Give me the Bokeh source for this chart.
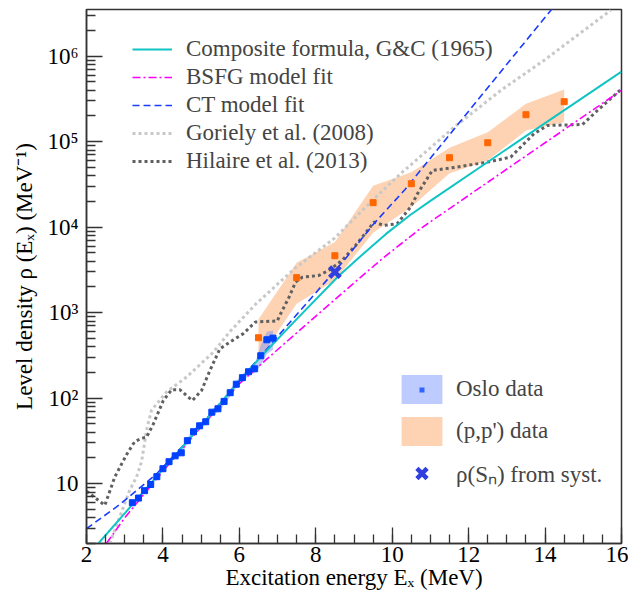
from bokeh.plotting import figure
from bokeh.models import (Range1d, FixedTicker, Legend, LegendItem, BoxAnnotation)
from bokeh.embed import file_html
from bokeh.resources import INLINE

# ---------------- data ----------------
# Oslo data
oslo_E = [3.20, 3.36, 3.52, 3.68, 3.84, 4.00, 4.16, 4.32, 4.48, 4.64, 4.80, 4.96,
          5.12, 5.28, 5.44, 5.60, 5.76, 5.92, 6.08, 6.24, 6.40, 6.56, 6.72, 6.88]
oslo_rho = [6.0, 6.8, 8.3, 9.8, 12.1, 15.0, 18.1, 21.2, 23.0, 31.9, 40.6, 47.6,
            53.1, 68.7, 75.3, 91.8, 116, 146, 174, 204, 221, 314, 483, 505]
oslo_lo = [5.8, 6.5, 7.9, 9.3, 11.4, 14.1, 17.0, 19.8, 21.4, 29.6, 37.6, 43.9,
           48.8, 63.0, 68.8, 83.6, 105, 132, 157, 183, 197, 240, 330, 370]
oslo_hi = [6.2, 7.1, 8.7, 10.3, 12.8, 15.9, 19.2, 22.6, 24.6, 34.2, 43.6, 51.3,
           57.4, 74.4, 81.8, 100, 127, 160, 191, 226, 250, 420, 600, 620]

# (p,p') data
pp_E = [6.5, 7.5, 8.5, 9.5, 10.5, 11.5, 12.5, 13.5, 14.5]
pp_rho = [510, 2570, 4640, 19400, 32300, 65000, 97300, 207000, 294000]
pp_lo = [280, 1270, 2400, 8600, 17200, 42900, 60400, 135000, 169000]
pp_hi = [840, 3850, 6700, 30500, 44100, 85100, 129000, 278000, 409000]

# rho(Sn) from systematics
sn_E = [8.5]
sn_rho = [2990]

# Composite formula, G&C (1965)
cgc_E = [2.31, 3.0, 4.0, 5.0, 6.0, 6.55, 7.5, 8.61, 9.2, 9.83, 10.48, 11.0, 12.5, 14.0, 16.0]
cgc_rho = [2.0, 4.5, 14.8, 48, 158, 302, 841, 2730, 4700, 8300, 14000, 20300, 58000,
           165000, 660000]

# BSFG model fit
bsfg_E = [2.52, 3.0, 4.0, 5.0, 6.0, 6.73, 8.5, 9.74, 10.7, 12.5, 14.0, 16.0]
bsfg_rho = [2.0, 4.0, 14.0, 46, 148, 290, 1430, 4290, 9360, 33600, 97300, 400000]

# CT model fit
ct_E = [2.0, 2.89, 3.83, 4.5, 5.5, 6.5, 7.52, 8.74, 9.52, 10.33, 11.66, 13.01, 14.3]
ct_rho = [2.98, 5.8, 13, 27, 88, 290, 973, 4090, 11000, 27500, 148000, 817000, 4150000]

# Goriely et al. (2008)
gor_E = [2.61, 2.87, 3.13, 3.31, 3.44, 3.53, 3.57, 3.70, 4.09, 4.62, 5.32, 5.75,
         6.42, 7.45, 8.5, 9.5, 10.22, 11.62, 12.84, 13.97, 15.72]
gor_rho = [2.0, 4.1, 8.4, 12, 18, 32, 42, 72, 118, 177, 346, 600,
           1250, 3300, 7500, 21000, 42300, 148000, 398000, 893000, 3450000]

# Hilaire et al. (2013)
hil_E = [2.0, 2.48, 2.74, 3.05, 3.26, 3.44, 3.57, 3.75, 4.01, 4.23, 4.44, 4.77,
         5.01, 5.23, 5.49, 5.75, 6.10, 6.42, 6.99, 7.08, 7.30, 7.47, 7.65, 8.08,
         8.34, 8.69, 9.04, 9.39, 9.52, 9.78, 10.13, 10.48, 10.66, 11.05, 11.70,
         12.49, 13.10, 13.71, 14.06, 14.98, 15.37, 15.98]
hil_rho = [8.2, 5.6, 12, 22, 31, 34, 35, 50, 94, 126, 126, 94,
           123, 211, 379, 453, 568, 780, 800, 973, 1520, 2280, 2600, 2730,
           3130, 4090, 6120, 9600, 11500, 10500, 11000, 17200, 24600, 46200, 50500,
           57700, 66100, 124000, 155000, 159000, 232000, 406000]

x_major = [2, 4, 6, 8, 10, 12, 14, 16]
y_major = [10, 100, 1000, 10000, 100000, 1000000]
y_labels = ["10", "10\u00b2", "10\u00b3", "10\u2074", "10\u2075", "10\u2076"]

FONT = "Liberation Serif"

# ---------------- figure ----------------
p = figure(width=628, height=599, x_range=Range1d(2, 16), y_range=Range1d(2.0, 3.52e6),
           y_axis_type="log", output_backend="svg", toolbar_location=None,
           min_border_left=86, min_border_right=7, min_border_top=9, min_border_bottom=56)
p.grid.visible = False
p.outline_line_color = "#333333"
p.outline_line_width = 1.5
p.background_fill_color = "white"
p.border_fill_color = "white"

# axes
p.xaxis.ticker = FixedTicker(ticks=x_major,
                             minor_ticks=[2 + 0.5 * i for i in range(29)])
minor_y = []
for k in range(0, 7):
    for m in range(2, 10):
        minor_y.append(m * 10 ** k)
p.yaxis.ticker = FixedTicker(ticks=y_major, minor_ticks=minor_y)
p.yaxis.major_label_overrides = {float(v): s for v, s in zip(y_major, y_labels)}

for ax in (p.xaxis[0], p.yaxis[0]):
    ax.major_tick_in = 16
    ax.major_tick_out = 0
    ax.minor_tick_in = 9
    ax.minor_tick_out = 0
    ax.major_tick_line_color = "#333333"
    ax.minor_tick_line_color = "#333333"
    ax.major_tick_line_width = 1.3
    ax.minor_tick_line_width = 1.3
    ax.axis_line_color = "#333333"
    ax.axis_line_width = 1.5
    ax.major_label_text_font = FONT
    ax.major_label_text_font_size = "23px"
    ax.major_label_text_color = "black"
    ax.axis_label_text_font = FONT
    ax.axis_label_text_font_size = "23px"
    ax.axis_label_text_font_style = "normal"
    ax.axis_label_text_color = "black"
p.xaxis.major_label_standoff = 3
p.yaxis.major_label_standoff = 8
p.xaxis.axis_label = "Excitation energy E\u2093 (MeV)"
p.yaxis.axis_label = "Level density \u03c1 (E\u2093) (MeV\u207b\u00b9)"
p.xaxis.axis_label_standoff = 0
p.yaxis.axis_label_standoff = 7

# ---------------- bands ----------------
band_pp = p.varea(x=pp_E, y1=pp_lo, y2=pp_hi, fill_color="#fdd3b4", fill_alpha=1.0)
band_oslo = p.varea(x=oslo_E, y1=oslo_lo, y2=oslo_hi, fill_color="#6f8cff", fill_alpha=0.45)

# ---------------- model lines ----------------
r_gor = p.line(gor_E, gor_rho, line_color="#c8c8c8", line_width=3, line_dash="3 3")
r_hil = p.line(hil_E, hil_rho, line_color="#606060", line_width=3, line_dash="3 3")
r_ct = p.line(ct_E, ct_rho, line_color="#1a3cff", line_width=1.6, line_dash="7 4")
r_bsfg = p.line(bsfg_E, bsfg_rho, line_color="#ff00ff", line_width=1.6, line_dash="8 3 2 3")
r_cgc = p.line(cgc_E, cgc_rho, line_color="#10c4c4", line_width=2)

# ---------------- data points ----------------
r_oslo = p.scatter(oslo_E, oslo_rho, marker="square", size=6, fill_color="#0040ff",
                   line_color="#0040ff")
r_pp = p.scatter(pp_E, pp_rho, marker="square", size=6, fill_color="#ff6600",
                 line_color="#ff6600")
r_sn = p.scatter(sn_E, sn_rho, marker="x", size=15, line_width=4.5, line_color="#2f3fe0")

# ---------------- legends ----------------
leg1 = Legend(items=[
    LegendItem(label="Composite formula, G&C (1965)", renderers=[r_cgc]),
    LegendItem(label="BSFG model fit", renderers=[r_bsfg]),
    LegendItem(label="CT model fit", renderers=[r_ct]),
    LegendItem(label="Goriely et al. (2008)", renderers=[r_gor]),
    LegendItem(label="Hilaire et al. (2013)", renderers=[r_hil]),
], location=(46, 369), glyph_width=40, glyph_height=26, label_height=26, spacing=2,
    label_standoff=14, padding=0, margin=0, border_line_alpha=0,
    background_fill_alpha=0, label_text_font=FONT, label_text_font_size="23px")
p.add_layout(leg1)

leg2 = Legend(items=[
    LegendItem(label="Oslo data", renderers=[band_oslo]),
    LegendItem(label="(p,p') data", renderers=[band_pp]),
    LegendItem(label="\u03c1(S\u2099) from syst.", renderers=[r_sn]),
], location=(310, 52), glyph_width=51, glyph_height=36, label_height=36, spacing=6,
    label_standoff=9, padding=0, margin=0, border_line_alpha=0,
    background_fill_alpha=0, label_text_font=FONT, label_text_font_size="23px")
p.add_layout(leg2)

# small squares inside the legend boxes
p.add_layout(BoxAnnotation(left=333, right=338, bottom=151, top=156,
                           left_units="screen", right_units="screen",
                           bottom_units="screen", top_units="screen",
                           fill_color="#0040ff", fill_alpha=1, line_alpha=0))
p.add_layout(BoxAnnotation(left=333, right=338, bottom=108.5, top=113.5,
                           left_units="screen", right_units="screen",
                           bottom_units="screen", top_units="screen",
                           fill_color="#ff6600", fill_alpha=1, line_alpha=0))

open("out.html", "w").write(file_html(p, INLINE))
